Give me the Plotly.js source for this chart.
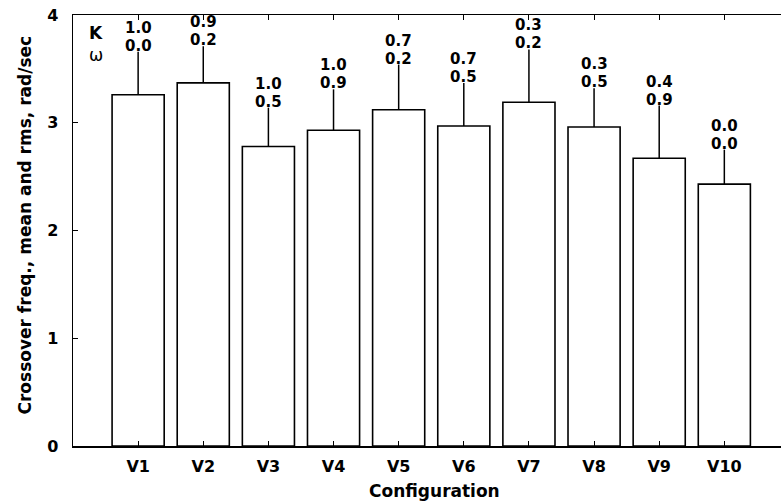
<!DOCTYPE html>
<html><head><meta charset="utf-8">
<script src="https://cdn.plot.ly/plotly-3.0.1.min.js"></script>
<style>html,body{margin:0;padding:0;background:#fff}#c{width:781px;height:503px}</style>
</head><body><div id="c"></div>
<script>
const configs = ["V1","V2","V3","V4","V5","V6","V7","V8","V9","V10"];
const meanFreq = [3.26, 3.37, 2.78, 2.93, 3.12, 2.97, 3.19, 2.96, 2.67, 2.43];
const rmsFreq  = [0.40, 0.34, 0.36, 0.38, 0.42, 0.40, 0.49, 0.36, 0.49, 0.32];
const kVals    = ["1.0","0.9","1.0","1.0","0.7","0.7","0.3","0.3","0.4","0.0"];
const wVals    = ["0.0","0.2","0.5","0.9","0.2","0.5","0.2","0.5","0.9","0.0"];
const yTicks   = [0, 1, 2, 3, 4];

const F = "DejaVu Sans, Arial, sans-serif";
const xs = configs.map((c,i)=>i);
const trace = {
  type: "bar", x: xs, y: meanFreq, width: 0.8,
  marker: {color: "#ffffff", line: {color: "#000", width: 1.6}},
  error_y: {type: "data", symmetric: false, array: rmsFreq, arrayminus: rmsFreq.map(()=>0),
            color: "#000", thickness: 1.5, width: 0}
};
const ann = [];
xs.forEach((x,i)=>{
  const top = meanFreq[i] + rmsFreq[i];
  ann.push({x: x, y: top, xref: "x", yref: "y", text: wVals[i], showarrow: false, borderpad: 0,
    yanchor: "bottom", yshift: -4, font: {family: F, size: 15, color: "#000", weight: "bold"}});
  ann.push({x: x, y: top, xref: "x", yref: "y", text: kVals[i], showarrow: false, borderpad: 0,
    yanchor: "bottom", yshift: 14, font: {family: F, size: 15, color: "#000", weight: "bold"}});
});
ann.push({x: -0.647, y: 3.83, xref: "x", yref: "y", text: "K", showarrow: false,
  font: {family: F, size: 17, color: "#000", weight: "bold"}});
ann.push({x: -0.64, y: 3.63, xref: "x", yref: "y", text: "ω", showarrow: false,
  font: {family: F, size: 17, color: "#000"}});
// axis titles
ann.push({x: 0.51, y: -0.104, xref: "paper", yref: "paper", xanchor: "center", yanchor: "middle",
  text: "Configuration", showarrow: false,
  font: {family: F, size: 17, color: "#000", weight: "bold"}});
ann.push({x: -0.0692, y: 0.5116, xref: "paper", yref: "paper", xanchor: "center", yanchor: "middle",
  text: "Crossover freq., mean and rms, rad/sec",
  showarrow: false, textangle: -90, font: {family: F, size: 17, color: "#000", weight: "bold"}});

const layout = {
  width: 781, height: 503,
  margin: {l: 73, r: 0, t: 15, b: 57},
  paper_bgcolor: "#fff", plot_bgcolor: "#fff",
  showlegend: false,
  font: {family: F, color: "#000"},
  xaxis: {range: [-1, 9.87], tickvals: xs, ticktext: configs, ticks: "inside", ticklen: 5,
    tickcolor: "#000", showline: true, linecolor: "#000", linewidth: 1.5, mirror: "ticks",
    showgrid: false, zeroline: false, ticklabelstandoff: 5,
    tickfont: {family: F, size: 16, weight: "bold"}},
  yaxis: {range: [0, 4], tickvals: yTicks, ticks: "inside", ticklen: 5, tickcolor: "#000",
    showline: true, linecolor: "#000", linewidth: 1.5, showgrid: false, zeroline: false,
    tickfont: {family: F, size: 16, weight: "bold"}, ticklabelstandoff: 10},
  annotations: ann
};
Plotly.newPlot("c", [trace], layout, {staticPlot: true, displayModeBar: false});
</script></body></html>
